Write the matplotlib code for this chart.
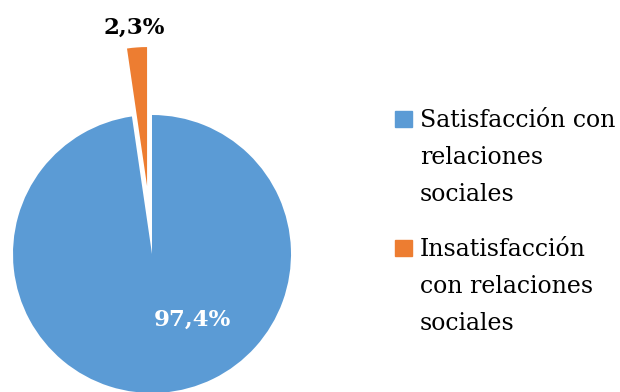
import matplotlib.pyplot as plt
from matplotlib.patches import Rectangle

labels = ["Satisfacción con\nrelaciones\nsociales",
          "Insatisfacción\ncon relaciones\nsociales"]
values = [97.4, 2.3]
colors = ["#5B9BD5", "#ED7D31"]
explode = [0, 0.49]

plt.rcParams['font.family'] = ['DejaVu Serif']

fig = plt.figure(figsize=(6.2, 3.92), dpi=100)
ax = fig.add_axes([0, 0, 1, 1])

wedges, _ = ax.pie(values, colors=colors, explode=explode, startangle=90,
                   counterclock=False, radius=1)

# one data unit = 139 px, pie centre at (152, 254) px from the top-left
ax.set_aspect('auto')
ax.set_xlim(-152 / 139, (620 - 152) / 139)
ax.set_ylim(-138 / 139, (392 - 138) / 139)
ax.axis('off')

def pct(v):
    return f"{v:.1f}".replace('.', ',') + '%'

ax.text(0.29, -0.475, pct(values[0]), color='white', fontsize=16.5,
        fontweight='bold', ha='center', va='center')
ax.text(-0.13, 1.63, pct(values[1]), color='black', fontsize=16.5,
        fontweight='bold', ha='center', va='center')

# legend drawn by hand: square sits on the baseline of the first line
W, H = 620, 392
for i, (lab, col) in enumerate(zip(labels, colors)):
    base = [127, 255.5][i]
    fig.patches.append(Rectangle((395 / W, 1 - base / H), 17 / W, 16 / H,
                                 transform=fig.transFigure, color=col))
    for j, line in enumerate(lab.split('\n')):
        fig.text(420 / W, 1 - (base + j * 37.2) / H, line, fontsize=17,
                 va='baseline', ha='left')

fig.savefig('out.png', dpi=100)
